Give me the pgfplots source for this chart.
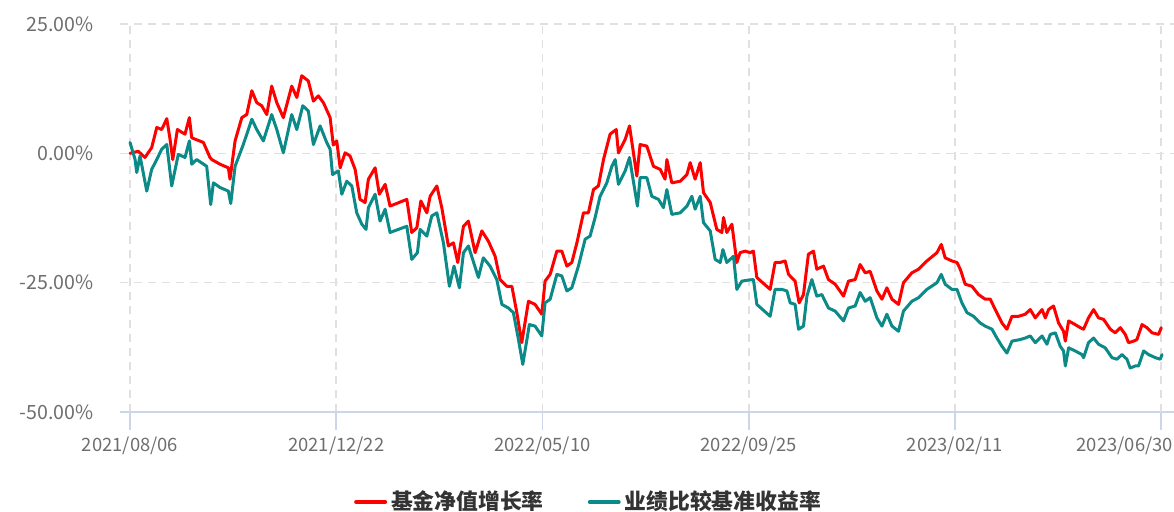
\documentclass[border=0pt]{standalone}
\usepackage{pgfplots}
\usepackage{pgfplotstable}
\pgfplotsset{compat=1.18}
\usepackage{fontspec}
\setmainfont{Noto Sans CJK SC}
\definecolor{fundred}{RGB}{255,0,0}
\definecolor{benchteal}{RGB}{12,138,136}
\definecolor{axisblue}{RGB}{204,214,235}
\definecolor{gridgray}{RGB}{224,224,224}
\definecolor{ticktext}{RGB}{110,110,110}
\definecolor{legtext}{RGB}{51,51,51}

\pgfplotstableread{
d v
0 0
5.5 0.4
10.0 -0.8
14.5 1.1
17.9 5.0
21.2 4.6
24.6 6.7
26.8 2.7
28.6 -1.2
31.7 4.6
36.8 3.7
39.7 6.9
41.3 3.0
49.1 2.1
53.5 -0.8
54.7 -1.2
60.2 -2.1
65.8 -2.8
66.9 -5.0
70.3 2.4
74.8 6.9
78.1 7.5
81.5 12.1
84.8 9.8
88.1 9.2
91.5 7.5
94.8 13.0
98.2 9.8
102.6 6.9
108.2 13.0
111.6 10.8
114.9 15.0
119.3 14.0
122.7 10.1
126.0 11.1
129.4 9.8
133.9 6.9
136.0 1.6
138.3 2.4
140.6 -2.8
143.9 0.1
147.2 -0.5
150.6 -3.1
153.9 -8.9
157.3 -9.5
159.5 -5.0
164.0 -2.8
166.8 -7.9
170.7 -6.0
174.0 -10.2
185.2 -8.9
188.5 -15.3
191.9 -14.4
194.6 -9.2
198.6 -11.5
200.8 -8.3
205.3 -6.3
208.6 -10.5
213.0 -17.9
216.4 -17.3
219.3 -21.1
223.1 -14.1
226.4 -13.1
230.9 -19.2
235.4 -15.0
239.8 -17.0
244.3 -19.9
247.6 -24.4
252.1 -25.7
255.5 -25.7
258.8 -30.8
262.1 -36.6
266.6 -28.6
271.0 -29.2
275.5 -31.1
277.7 -24.7
281.1 -23.4
285.6 -18.9
288.9 -18.9
292.3 -21.8
295.6 -21.1
299.0 -17.3
303.4 -11.5
306.7 -11.5
310.1 -7.0
313.4 -6.3
316.8 -1.2
321.2 3.7
325.3 4.6
326.8 0.1
331.3 2.7
334.2 5.3
339.1 -4.4
341.3 1.7
345.8 1.4
350.2 -2.5
354.7 -3.1
358.0 -5.0
359.2 -1.2
362.5 -5.7
368.1 -5.4
372.6 -4.1
374.8 -1.8
378.1 -5.0
381.5 -1.8
383.7 -7.6
388.2 -9.5
392.6 -14.7
396.0 -15.3
397.1 -12.4
399.3 -15.3
402.7 -13.7
406.0 -21.1
408.2 -19.2
411.6 -18.9
414.9 -19.2
417.1 -18.9
419.4 -24.0
428.3 -26.3
431.6 -21.1
435.0 -21.1
438.3 -20.8
440.6 -23.4
445.0 -24.7
447.7 -28.9
450.6 -27.3
453.9 -19.5
457.3 -18.9
459.5 -22.4
464.0 -21.8
467.3 -24.4
471.8 -25.3
477.4 -27.6
480.7 -24.7
485.2 -24.4
488.5 -21.5
491.9 -23.1
495.2 -22.8
499.7 -26.6
503.1 -28.2
506.4 -26.0
509.8 -28.2
514.2 -29.2
517.5 -25.0
523.1 -23.1
527.6 -22.4
533.2 -20.8
539.9 -19.2
542.8 -17.6
545.4 -20.2
549.9 -20.8
553.3 -21.1
555.5 -22.4
558.8 -25.3
563.3 -25.7
567.7 -27.3
572.2 -28.2
575.6 -28.2
578.9 -30.2
583.4 -32.8
586.7 -34.0
590.1 -31.5
594.5 -31.5
599.0 -31.1
602.3 -30.2
605.7 -31.8
610.2 -30.2
612.4 -31.8
614.6 -30.2
617.9 -29.5
621.3 -32.8
624.6 -34.4
625.8 -36.3
628.0 -32.4
632.4 -33.1
635.8 -33.7
638.0 -34.0
641.3 -31.8
644.7 -30.2
648.0 -31.8
651.4 -32.1
655.9 -34.0
659.2 -34.7
662.6 -33.7
665.9 -35.0
668.1 -36.6
671.5 -36.3
673.7 -36.0
677.1 -33.1
680.4 -33.7
683.8 -34.7
688.2 -35.0
690.0 -33.7
}\fundtable

\pgfplotstableread{
d v
0 2.1
3.4 -1.2
4.5 -3.7
6.7 -0.5
11.2 -7.3
14.5 -3.1
17.9 -1.2
21.2 0.8
24.6 1.7
27.9 -6.3
32.3 -0.2
36.8 -0.8
39.7 2.4
41.3 -2.1
44.6 -1.2
51.3 -2.5
54.0 -9.9
55.8 -5.7
60.2 -6.6
65.8 -7.3
67.4 -9.7
70.3 -2.5
75.8 1.7
81.5 6.6
84.8 4.6
89.2 2.4
94.8 7.5
98.2 4.6
102.6 0.1
108.2 7.5
111.6 4.6
115.6 9.2
119.3 8.2
122.7 1.7
127.2 5.3
131.6 2.1
133.9 0.8
135.5 -4.1
139.4 -3.4
141.7 -7.9
145.0 -5.4
148.4 -6.3
151.7 -11.5
155.1 -13.7
157.9 -14.7
159.5 -10.5
164.0 -7.9
167.3 -13.1
170.7 -10.8
174.0 -15.3
185.2 -14.1
188.5 -20.5
192.3 -19.2
194.1 -14.7
198.6 -16.0
201.9 -12.1
205.3 -11.5
209.7 -17.3
213.7 -25.7
216.8 -21.8
220.4 -26.0
223.1 -19.2
226.4 -17.9
233.1 -24.0
236.4 -20.2
240.9 -21.8
245.4 -24.4
248.8 -29.2
253.2 -29.9
256.5 -30.8
259.9 -36.0
262.8 -40.8
267.2 -33.1
271.0 -33.4
275.5 -35.3
277.7 -28.9
281.1 -28.2
285.6 -23.4
288.9 -23.7
292.3 -26.6
295.6 -26.0
300.0 -21.8
304.5 -16.6
307.8 -16.0
311.2 -12.4
314.5 -8.3
319.0 -5.7
322.4 -2.5
324.6 -1.2
326.8 -6.0
331.3 -3.4
334.2 -0.8
339.5 -10.2
341.3 -4.7
345.8 -4.7
349.1 -8.3
353.6 -8.9
356.9 -10.5
359.2 -7.0
362.5 -11.8
368.1 -11.5
372.6 -10.2
375.9 -8.3
378.1 -10.8
381.5 -8.3
383.7 -13.4
388.2 -15.0
391.5 -20.5
394.9 -21.1
396.7 -18.6
399.3 -21.1
403.8 -19.9
406.0 -26.3
409.4 -24.7
413.8 -24.5
417.1 -24.4
419.4 -29.2
428.3 -31.5
431.6 -26.3
436.1 -26.3
439.5 -26.6
441.7 -28.9
445.0 -29.2
447.3 -34.0
450.6 -33.4
452.9 -27.6
456.2 -24.4
459.5 -27.6
462.9 -27.3
467.3 -29.9
471.8 -30.5
477.4 -32.4
480.7 -29.9
485.2 -29.5
488.5 -26.9
491.9 -28.6
495.2 -27.9
499.7 -31.8
503.1 -33.4
506.4 -31.1
509.8 -33.4
514.2 -34.4
517.5 -30.5
523.1 -28.6
527.6 -27.9
533.2 -26.3
539.9 -25.0
542.8 -23.4
545.4 -25.3
549.9 -26.3
553.3 -26.3
556.6 -28.9
560.0 -30.8
564.4 -31.5
568.9 -32.8
572.2 -33.4
576.7 -34.0
580.0 -35.7
583.4 -37.3
586.7 -38.6
590.1 -36.3
595.6 -36.0
599.0 -35.7
602.3 -35.3
605.7 -36.6
610.2 -35.3
613.5 -36.9
615.7 -35.0
619.1 -34.7
622.4 -37.3
624.6 -38.2
625.8 -41.1
628.0 -37.6
632.4 -38.2
636.9 -38.9
638.0 -39.5
641.3 -36.6
644.7 -35.7
648.0 -36.9
652.5 -37.6
657.0 -39.5
660.3 -39.8
663.7 -38.9
667.0 -39.8
669.2 -41.5
672.6 -41.1
674.8 -41.1
678.2 -38.2
681.5 -38.9
686.0 -39.5
689.3 -39.8
690.5 -38.9
}\benchtable

\begin{document}
\begin{tikzpicture}
\useasboundingbox (0,0) rectangle (587pt,256pt);
\begin{axis}[
  at={(60pt,50pt)}, anchor=south west,
  scale only axis,
  width=527pt, height=194pt,
  xmin=-6.7, xmax=698.5,
  ymin=-50, ymax=25,
  axis x line*=bottom,
  axis y line*=left,
  y axis line style={draw=none},
  x axis line style={axisblue, line width=1pt},
  xtick={0,138,276,414,552,690},
  xticklabels={2021/08/06,2021/12/22,2022/05/10,2022/09/25,2023/02/11,},
  extra x ticks={690},
  extra x tick labels={2023/06/30},
  extra x tick style={xticklabel style={anchor=north east, xshift=6pt}},
  ytick={-50,-25,0,25},
  yticklabels={-50.00\%,-25.00\%,0.00\%,25.00\%},
  tick align=outside,
  xtick style={axisblue, line width=0.8pt},
  major tick length=9pt,
  ytick style={draw=none},
  xticklabel style={font=\fontsize{9.2}{10}\selectfont, text=ticktext, inner sep=0pt, yshift=-3pt},
  yticklabel style={font=\fontsize{9.8}{11}\selectfont, text=ticktext, inner sep=0pt, xshift=-4pt},
  xmajorgrids, ymajorgrids,
  major grid style={gridgray, line width=0.8pt, dash pattern=on 4pt off 3pt},
  legend style={at={(0.4455,-0.232)}, anchor=center, draw=none, fill=none,
    legend columns=2, font=\bfseries\fontsize{10.9}{12}\selectfont, text=legtext,
    /tikz/every even column/.append style={column sep=20pt},
    inner sep=0pt},
  legend cell align=left,
  legend image code/.code={\draw[#1, line width=2pt] (0pt,0pt) -- (14.5pt,0pt);},
  every axis plot/.append style={line join=round, line cap=round},
]
\addplot[fundred, line width=1.5pt] table[x=d, y=v] {\fundtable};
\addlegendentry{基金净值增长率}
\addplot[benchteal, line width=1.5pt] table[x=d, y=v] {\benchtable};
\addlegendentry{业绩比较基准收益率}
\end{axis}
\end{tikzpicture}
\end{document}
